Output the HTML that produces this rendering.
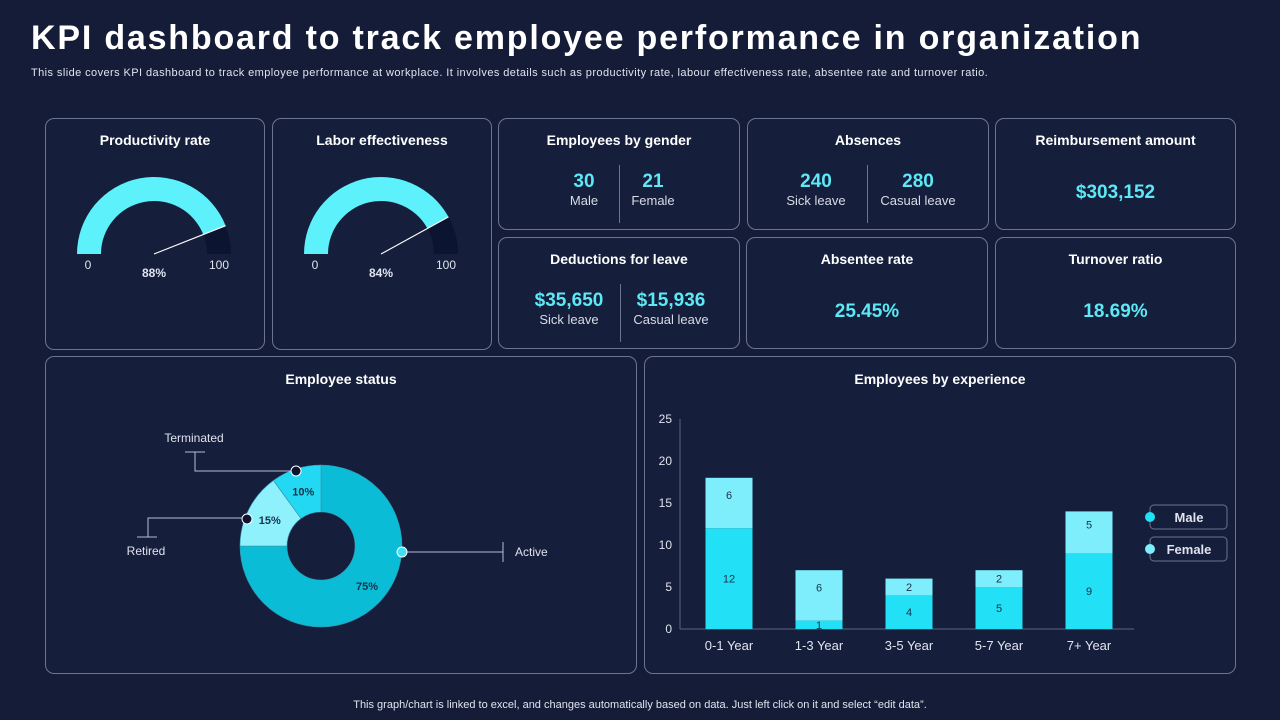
<!DOCTYPE html>
<html><head><meta charset="utf-8"><style>
*{margin:0;padding:0;box-sizing:border-box}
body{width:1280px;height:720px;background:#141c38;font-family:"Liberation Sans",sans-serif;color:#fff;position:relative;overflow:hidden}
.abs{position:absolute}
.card{position:absolute;border:1px solid #6b7591;border-radius:9px;background:#151e3b}
.ct{position:absolute;left:0;right:0;top:13px;text-align:center;font-weight:bold;font-size:14px}
.val{color:#5ce8f5;font-size:19px;font-weight:bold;text-align:center}
.lbl{color:#d8dce6;font-size:13px;text-align:center}
.col{position:absolute;top:52px;width:50%}
.sep{position:absolute;left:50%;top:46px;height:58px;border-left:1px solid #6b7591}
</style></head><body>
<div class="abs" style="left:31px;top:19px;font-size:34px;font-weight:bold;letter-spacing:1.8px">KPI dashboard to track employee performance in organization</div>
<div class="abs" style="left:31px;top:67px;font-size:11px;color:#e0e4ee;letter-spacing:0.42px">This slide covers KPI dashboard to track employee performance at workplace. It involves details such as productivity rate, labour effectiveness rate, absentee rate and turnover ratio.</div>

<div class="card" style="left:45px;top:118px;width:220px;height:232px"><div class="ct">Productivity rate</div>
<svg id="g1" class="abs" style="left:0;top:0" width="220" height="232"></svg></div>
<div class="card" style="left:272px;top:118px;width:220px;height:232px"><div class="ct">Labor effectiveness</div>
<svg id="g2" class="abs" style="left:0;top:0" width="220" height="232"></svg></div>

<div class="card" style="left:498px;top:118px;width:242px;height:112px"><div class="ct">Employees by gender</div>
<div class="col" style="left:35px;width:100px"><div class="val">30</div><div class="lbl">Male</div></div>
<div class="sep" style="left:120px"></div>
<div class="col" style="left:124px;width:60px"><div class="val">21</div><div class="lbl">Female</div></div></div>

<div class="card" style="left:747px;top:118px;width:242px;height:112px"><div class="ct">Absences</div>
<div class="col" style="left:18px;width:100px"><div class="val">240</div><div class="lbl">Sick leave</div></div>
<div class="sep" style="left:119px"></div>
<div class="col" style="left:120px;width:100px"><div class="val">280</div><div class="lbl">Casual leave</div></div></div>

<div class="card" style="left:995px;top:118px;width:241px;height:112px"><div class="ct">Reimbursement amount</div>
<div class="val abs" style="left:0;right:0;top:63px">$303,152</div></div>

<div class="card" style="left:498px;top:237px;width:242px;height:112px"><div class="ct">Deductions for leave</div>
<div class="col" style="left:20px;width:100px"><div class="val">$35,650</div><div class="lbl">Sick leave</div></div>
<div class="sep" style="left:121px"></div>
<div class="col" style="left:122px;width:100px"><div class="val">$15,936</div><div class="lbl">Casual leave</div></div></div>

<div class="card" style="left:746px;top:237px;width:242px;height:112px"><div class="ct">Absentee rate</div>
<div class="val abs" style="left:0;right:0;top:63px">25.45%</div></div>
<div class="card" style="left:995px;top:237px;width:241px;height:112px"><div class="ct">Turnover ratio</div>
<div class="val abs" style="left:0;right:0;top:63px">18.69%</div></div>

<div class="card" style="left:45px;top:356px;width:592px;height:318px"><div class="ct" style="top:14px">Employee status</div></div>
<div class="card" style="left:644px;top:356px;width:592px;height:318px"><div class="ct" style="top:14px">Employees by experience</div></div>

<svg id="main" class="abs" style="left:0;top:0" width="1280" height="720"></svg>

<div class="abs" style="left:0;right:0;top:699px;text-align:center;font-size:11px;color:#e0e4ee">This graph/chart is linked to excel, and changes automatically based on data. Just left click on it and select “edit data”.</div>

<script>
const gaugeValues=[88,84];
const statusLabels=["Active","Retired","Terminated"];
const statusValues=[75,15,10];
const categories=["0-1 Year","1-3 Year","3-5 Year","5-7 Year","7+ Year"];
const maleValues=[12,1,4,5,9];
const femaleValues=[6,6,2,2,5];
const yTicks=[0,5,10,15,20,25];

const NS="http://www.w3.org/2000/svg";
function mk(p,t,a){const e=document.createElementNS(NS,t);for(const k in a)e.setAttribute(k,a[k]);p.appendChild(e);return e;}
function arcPath(cx,cy,ro,ri,a0,a1){
 const p=(r,a)=>[cx+r*Math.cos(a),cy+r*Math.sin(a)];
 const lg=(a1-a0)>Math.PI?1:0;
 const [x0,y0]=p(ro,a0),[x1,y1]=p(ro,a1),[x2,y2]=p(ri,a1),[x3,y3]=p(ri,a0);
 return `M${x0} ${y0}A${ro} ${ro} 0 ${lg} 1 ${x1} ${y1}L${x2} ${y2}A${ri} ${ri} 0 ${lg} 0 ${x3} ${y3}Z`;
}
["g1","g2"].forEach((id,i)=>{
 const s=document.getElementById(id),cx=108,cy=135,ro=77,ri=53,v=gaugeValues[i];
 const av=Math.PI+Math.PI*v/100;
 const a=mk(s,"path",{d:arcPath(cx,cy,ro,ri,Math.PI,av),fill:"#5cf1fb"});
 
 
 const b=mk(s,"path",{d:arcPath(cx,cy,ro,ri,av,2*Math.PI),fill:"#0b1430"});
 
 
 const n=mk(s,"line",{x1:cx,y1:cy,x2:cx+ro*Math.cos(av),y2:cy+ro*Math.sin(av),stroke:"#fff","stroke-width":1.2});
 
 
 const t0=mk(s,"text",{x:cx-ro+11,y:cy+15,fill:"#e0e4ee","font-size":12,"text-anchor":"middle"});t0.textContent="0";
 
 
 const t1=mk(s,"text",{x:cx+ro-12,y:cy+15,fill:"#e0e4ee","font-size":12,"text-anchor":"middle"});t1.textContent="100";
 
 
 const t2=mk(s,"text",{x:cx,y:cy+23,fill:"#e0e4ee","font-size":12,"font-weight":"bold","text-anchor":"middle"});t2.textContent=v+"%";
 
 
});
const M=document.getElementById("main");
const dcx=321,dcy=546,dro=81,dri=34;
const colors=["#0bbcd6","#8ef1fc","#22d8f2"];
let acc=0;const total=statusValues.reduce((a,b)=>a+b,0);
statusValues.forEach((v,i)=>{
 const a0=-Math.PI/2+2*Math.PI*acc/total,a1=-Math.PI/2+2*Math.PI*(acc+v)/total;acc+=v;
 const p=mk(M,"path",{d:arcPath(dcx,dcy,dro,dri,a0,a1),fill:colors[i],stroke:"#3a8fa8","stroke-width":0.6});
 
 
 const am=(a0+a1)/2;
 const r=i==0?58:(dro+dri)/2;
 const t=mk(M,"text",{x:dcx+r*Math.cos(am)+(i==0?5:0),y:dcy+r*Math.sin(am)+(i==0?3:4),fill:"#17324a","font-size":11,"font-weight":"bold","text-anchor":"middle"});
 t.textContent=v+"%";
 
 
});
function callout(pts,dot,dotFill,label,lx,ly,anchor,name){
 const l=mk(M,"polyline",{points:pts,fill:"none",stroke:"#b8bfcf","stroke-width":1});
 
 
 const c=mk(M,"circle",{cx:dot[0],cy:dot[1],r:5,fill:dotFill,stroke:"#fff","stroke-width":1});
 
 
 const t=mk(M,"text",{x:lx,y:ly,fill:"#e0e4ee","font-size":12,"text-anchor":anchor});t.textContent=label;
 
 
}
callout("185,452 205,452 195,452 195,471 296,471",[296,471],"#0b1430",statusLabels[2],194,442,"middle","terminated");
callout("137,537 157,537 148,537 148,518 247,518",[247,519],"#0b1430",statusLabels[1],146,555,"middle","retired");
callout("402,552 503,552 503,542 503,562",[402,552],"#3fe0f5",statusLabels[0],515,556,"start","active");
const x0=680,xEnd=1134,y0=629,pxu=8.4,bw=47;
const xs=i=>729+i*90, ys=v=>y0-v*pxu;
yTicks.forEach(t=>{const e=mk(M,"text",{x:672,y:ys(t)+4,fill:"#e0e4ee","font-size":12,"text-anchor":"end"});e.textContent=t;
 
 });
const ax=mk(M,"line",{x1:x0,y1:419,x2:x0,y2:y0,stroke:"#5b6680"});


const bx=mk(M,"line",{x1:x0,y1:y0,x2:xEnd,y2:y0,stroke:"#5b6680"});


categories.forEach((c,i)=>{
 const m=maleValues[i],f=femaleValues[i],cx=xs(i);
 const r1=mk(M,"rect",{x:cx-bw/2,y:ys(m),width:bw,height:m*pxu,fill:"#22e0f5"});
 
 
 const r2=mk(M,"rect",{x:cx-bw/2,y:ys(m+f),width:bw,height:f*pxu,fill:"#7eeefc"});
 
 
 const t1=mk(M,"text",{x:cx,y:ys(m/2)+4,fill:"#17324a","font-size":11,"text-anchor":"middle"});t1.textContent=m;
 
 
 const t2=mk(M,"text",{x:cx,y:ys(m+f/2)+4-(f>3?8:0),fill:"#17324a","font-size":11,"text-anchor":"middle"});t2.textContent=f;
 
 
 const tl=mk(M,"text",{x:cx,y:650,fill:"#e0e4ee","font-size":13,"text-anchor":"middle"});tl.textContent=c;
 
 
});
[["Male","#22e0f5",517],["Female","#7eeefc",549]].forEach(([n,col,y])=>{
 const r=mk(M,"rect",{x:1150,y:y-12,width:77,height:24,rx:4,fill:"#151e3b",stroke:"#6b7591"});
 
 
 const c=mk(M,"circle",{cx:1150,cy:y,r:5,fill:col});
 
 
 const t=mk(M,"text",{x:1189,y:y+5,fill:"#e0e4ee","font-size":13,"font-weight":"bold","text-anchor":"middle"});t.textContent=n;
 
 
});
</script>
</body></html>
